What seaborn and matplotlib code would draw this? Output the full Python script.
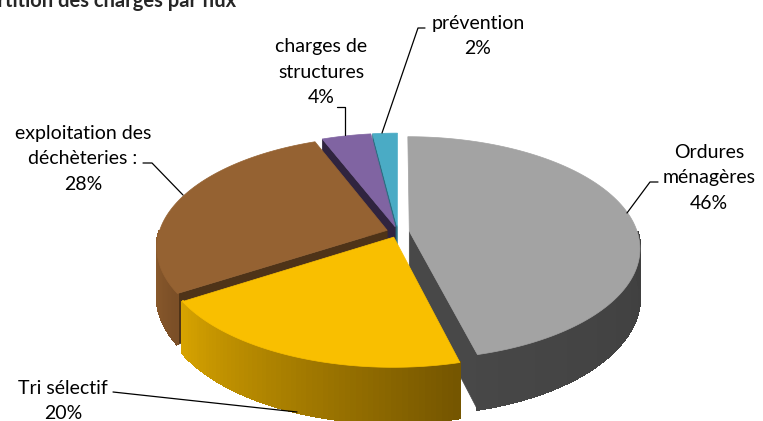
import numpy as np
import matplotlib.pyplot as plt
import matplotlib.colors as mcolors
from matplotlib.patches import Polygon
import seaborn as sns

# data
title = "Répartition des charges par flux"
labels = ["Ordures\nménagères", "Tri sélectif", "exploitation des\ndéchèteries :",
          "charges de\nstructures", "prévention"]
shares = [46, 20, 28, 4, 2]

# colours: top face, outer wall (left -> right), cut face
top_colors = ["#a3a3a3", "#f9bf00", "#956232", "#8064a2", "#4aabc5"]
wall_colors = [("#474747", "#3f3f3f"), ("#d8a400", "#745500"), ("#93602f", "#7b4f27"),
               ("#5e4a78", "#4a3a60"), ("#3a8ea5", "#2f7a8e")]
cut_colors = ["#484848", "#8a6a00", "#4e3318", "#30243f", "#2b6f82"]

# label layout (pixels)
label_pos = [(709, 178), (63, 401), (83, 159), (321, 72), (478, 36)]
leaders = [
    [(658, 182), (650, 182), (627, 213)],
    [(113, 392), (297, 412)],
    [(143, 163), (152, 163), (183, 195)],
    [(337, 107), (345, 107), (345, 135)],
    [(425, 28), (418, 28), (382, 133)],
]

sns.set_theme(style="white")
plt.rcParams['font.family'] = ['Lato', 'DejaVu Sans']

fig = plt.figure(figsize=(7.63, 4.21), dpi=100)
ax = fig.add_axes([0, 0, 1, 1])
ax.set_xlim(0, 763)
ax.set_ylim(421, 0)
ax.axis('off')

# pie geometry (pixel space), with a light perspective
cx, cy = 398, 232
a, b = 228, 109
depth = 47
explode = 0.05
persp = 0.15

total = sum(shares)
cum = np.cumsum([0] + shares) / total * 360
slices = []
for i in range(len(shares)):
    alpha = 90 - cum[i + 1]
    beta = 90 - cum[i]
    slices.append((alpha, beta))


def project(u, v, z=0):
    p = 1.0 / (1.0 + persp * v)
    return (cx + a * u * p, cy - b * v * p + z * p)


def point(ou, ov, th, z=0):
    t = np.radians(th)
    return project(ou + np.cos(t), ov + np.sin(t), z)


def draw_slice(i):
    alpha, beta = slices[i]
    mid = np.radians((alpha + beta) / 2)
    ou = explode * np.cos(mid)
    ov = explode * np.sin(mid)
    c_top = project(ou, ov)
    c_bot = project(ou, ov, depth)

    # cut faces
    if np.cos(np.radians(beta)) < -1e-6:
        poly = [c_top, point(ou, ov, beta), point(ou, ov, beta, depth), c_bot]
        ax.add_patch(Polygon(poly, closed=True, facecolor=cut_colors[i],
                             edgecolor=cut_colors[i], lw=0.5))
    if np.cos(np.radians(alpha)) > 1e-6:
        poly = [c_top, point(ou, ov, alpha), point(ou, ov, alpha, depth), c_bot]
        ax.add_patch(Polygon(poly, closed=True, facecolor=cut_colors[i],
                             edgecolor=cut_colors[i], lw=0.5))

    # outer wall, shaded left to right
    lo, hi = max(alpha, -180), min(beta, 0)
    if lo < hi:
        c0 = np.array(mcolors.to_rgb(wall_colors[i][0]))
        c1 = np.array(mcolors.to_rgb(wall_colors[i][1]))
        ts = np.linspace(lo, hi, 60)
        for k in range(len(ts) - 1):
            f = (k + 0.5) / (len(ts) - 1)
            col = c0 * (1 - f) + c1 * f
            poly = [point(ou, ov, ts[k]), point(ou, ov, ts[k + 1]),
                    point(ou, ov, ts[k + 1], depth), point(ou, ov, ts[k], depth)]
            ax.add_patch(Polygon(poly, closed=True, facecolor=col, edgecolor=col,
                                 lw=1.2, antialiased=False))

    # top face
    ts = np.linspace(alpha, beta, 120)
    poly = [c_top] + [point(ou, ov, t) for t in ts]
    ax.add_patch(Polygon(poly, closed=True, facecolor=top_colors[i],
                         edgecolor=top_colors[i], lw=0.5))


# back to front
for i in [4, 3, 2, 0, 1]:
    draw_slice(i)

# labels and leader lines
for lab, val, (x, y) in zip(labels, shares, label_pos):
    ax.text(x, y, f"{lab}\n{val}%", ha='center', va='center', multialignment='center',
            fontsize=14, color='black', linespacing=1.58)

for pts in leaders:
    xs, ys = zip(*pts)
    ax.plot(xs, ys, color='black', lw=0.9)

ax.text(236, 7, title, ha='right', va='baseline', fontsize=14.5, fontweight='bold')

fig.savefig('out.png', dpi=100)
